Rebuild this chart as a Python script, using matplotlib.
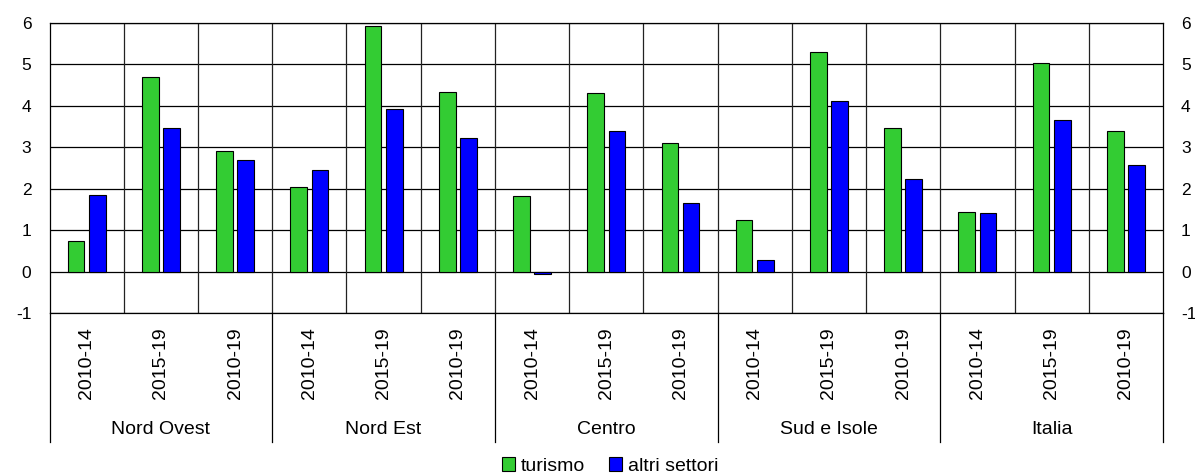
import matplotlib
matplotlib.use("Agg")
import matplotlib.pyplot as plt
from matplotlib.patches import Patch
import matplotlib.transforms as mtransforms
import numpy as np

plt.rcParams['font.family'] = ['Liberation Sans', 'DejaVu Sans']

regions = ["Nord Ovest", "Nord Est", "Centro", "Sud e Isole", "Italia"]
periods = ["2010-14", "2015-19", "2010-19"]
turismo = [0.75, 4.70, 2.91,
           2.03, 5.93, 4.34,
           1.83, 4.32, 3.10,
           1.25, 5.30, 3.47,
           1.43, 5.03, 3.39]
altri_settori = [1.85, 3.46, 2.69,
                 2.46, 3.92, 3.22,
                 -0.07, 3.39, 1.66,
                 0.29, 4.12, 2.23,
                 1.41, 3.65, 2.57]
y_ticks = [-1, 0, 1, 2, 3, 4, 5, 6]

GREEN = "#33CC33"
BLUE = "#0000FF"

W, H = 1195, 474
fig = plt.figure(figsize=(W / 100, H / 100), dpi=100)
left, right, top, bottom = 49.5, 1163, 23, 313
ax = fig.add_axes([left / W, 1 - bottom / H, (right - left) / W, (bottom - top) / H])

n = len(turismo)
x = np.arange(n)
bw = 0.225
off = 0.143
ax.bar(x - off, turismo, bw, color=GREEN, edgecolor="black", linewidth=0.8, zorder=3)
ax.bar(x + off, altri_settori, bw, color=BLUE, edgecolor="black", linewidth=0.8, zorder=3)

ax.set_xlim(-0.5, n - 0.5)
ax.set_ylim(-1, 6)
ax.set_yticks(y_ticks)
ax.set_yticklabels([str(v) for v in y_ticks])

# horizontal grid at every unit, vertical separators between categories
for v in y_ticks:
    ax.axhline(v, color="black", lw=0.9, zorder=1)
for k in range(1, n):
    ax.axvline(k - 0.5, color="#222222", lw=0.9, zorder=1)

for s in ax.spines.values():
    s.set_color("black")
    s.set_linewidth(0.9)

ax.tick_params(axis='y', length=0, labelsize=12.5, pad=13, labelright=True, right=False)
ax.tick_params(axis='y', which='major', labelright=True)
for lbl in ax.get_yticklabels(which='both'):
    pass
ax.yaxis.set_tick_params(labelright=True, pad=13)

ax.set_xticks(x)
ax.set_xticklabels(periods * len(regions), rotation=90, fontsize=14)
ax.tick_params(axis='x', length=0, pad=10)

# region labels and separators below the plot
trans = mtransforms.blended_transform_factory(ax.transData, ax.transAxes)
sep_bottom = -(442 - bottom) / (bottom - top)
label_y = -(429 - bottom) / (bottom - top)
for g in range(len(regions) + 1):
    ax.plot([g * 3 - 0.5] * 2, [0, sep_bottom], transform=trans, color="black",
            lw=0.9, clip_on=False)
for g, name in enumerate(regions):
    ax.text(g * 3 + 1, label_y, name, transform=trans, ha="center", va="center",
            fontsize=14)

handles = [Patch(facecolor=GREEN, edgecolor="black", linewidth=0.8),
           Patch(facecolor=BLUE, edgecolor="black", linewidth=0.8)]
fig.legend(handles, ["turismo", "altri settori"], loc="center",
           bbox_to_anchor=(610 / W, 1 - 466 / H), ncol=2, frameon=False,
           fontsize=14, handlelength=0.7, handleheight=0.7, handletextpad=0.3,
           columnspacing=1.2, borderpad=0)

fig.savefig("out.png", dpi=100)
